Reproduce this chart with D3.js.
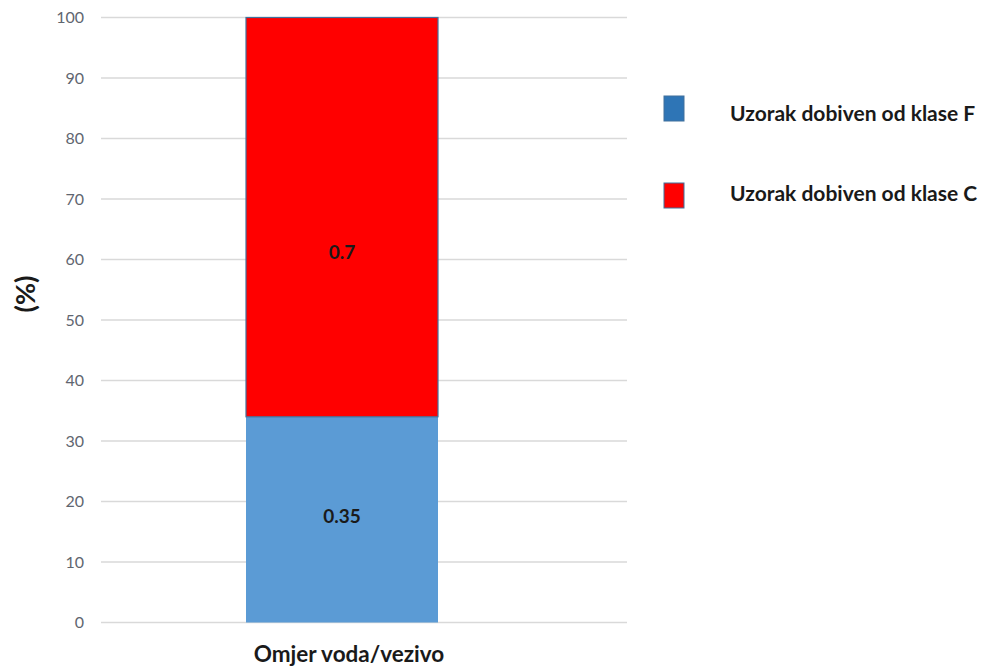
<!DOCTYPE html>
<html><head><meta charset="utf-8">
<script src="https://cdn.jsdelivr.net/npm/d3@7"></script>
<style>body{margin:0;background:#fff}svg{display:block}</style>
</head><body>
<script>
const categories = ["Omjer voda/vezivo"];
const seriesNames = ["Uzorak dobiven od klase F", "Uzorak dobiven od klase C"];
const valueLabels = [[0.35], [0.7]];      // printed labels
const percentValues = [[34], [66]];       // stacked heights in %
const labelAtPercent = [[17.5], [61.2]];  // where the labels sit (in %)
const yTicks = [0,10,20,30,40,50,60,70,80,90,100];
const colors = ["#5b9bd5", "#ff0000"];
const legendColors = ["#2e75b6", "#ff0000"];

const W = 995, H = 666;
const svg = d3.select("body").append("svg").attr("width", W).attr("height", H);
const font = "Lato, 'Open Sans', sans-serif";

const x = d3.scaleBand().domain(categories).range([246, 438]).padding(0);
const y = d3.scaleLinear().domain([0, 100]).range([622.5, 17.5]);

// gridlines
svg.append("g").selectAll("line").data(yTicks).join("line")
  .attr("x1", 101).attr("x2", 627)
  .attr("y1", d => y(d)).attr("y2", d => y(d))
  .attr("stroke", "#d9d9d9").attr("stroke-width", 1.3);

// y axis labels
const yAxis = d3.axisLeft(y).tickValues(yTicks).tickSize(0).tickPadding(0);
const ga = svg.append("g").attr("transform", "translate(84,0)").call(yAxis);
ga.select(".domain").remove();
ga.selectAll("text").attr("font-family", font).attr("font-size", 16).attr("fill", "#5f6670");

// stacked bars
const bw = x.bandwidth(), bx = x(categories[0]), cx = bx + bw / 2;
let base = 0;
seriesNames.forEach((s, i) => {
  const v = percentValues[i][0];
  const y0 = y(base), y1 = y(base + v);
  svg.append("rect").attr("x", bx).attr("y", y1).attr("width", bw).attr("height", y0 - y1)
    .attr("fill", colors[i])
    .attr("stroke", i === 1 ? "#41719c" : "none").attr("stroke-width", 1.2);
  svg.append("text").attr("x", cx).attr("y", y(labelAtPercent[i][0]) + 6.5)
    .attr("text-anchor", "middle").attr("font-family", font).attr("font-weight", "bold")
    .attr("font-size", 19).attr("fill", "#1a1a1a").text(valueLabels[i][0]);
  base += v;
});

// x label
svg.append("text").attr("x", cx + 7).attr("y", 662).attr("text-anchor", "middle")
  .attr("font-family", font).attr("font-weight", "bold").attr("font-size", 22.5)
  .attr("fill", "#1a1a1a").text(categories[0]);

// y title
svg.append("text").attr("transform", "translate(35,294) rotate(-90)").attr("text-anchor", "middle")
  .attr("font-family", font).attr("font-weight", "bold").attr("font-size", 27)
  .attr("fill", "#1a1a1a").text("(%)");

// legend
const lg = svg.append("g");
const legendTop = [96, 183];
const legendBase = [121, 201];
seriesNames.forEach((s, i) => {
  lg.append("rect").attr("x", 664).attr("y", legendTop[i]).attr("width", 20).attr("height", 25)
    .attr("fill", legendColors[i]).attr("stroke", "#41719c").attr("stroke-width", 1);
  lg.append("text").attr("x", 730).attr("y", legendBase[i]).attr("font-family", font)
    .attr("font-weight", "bold").attr("font-size", 21).attr("fill", "#1a1a1a").text(s);
});
</script>
</body></html>
